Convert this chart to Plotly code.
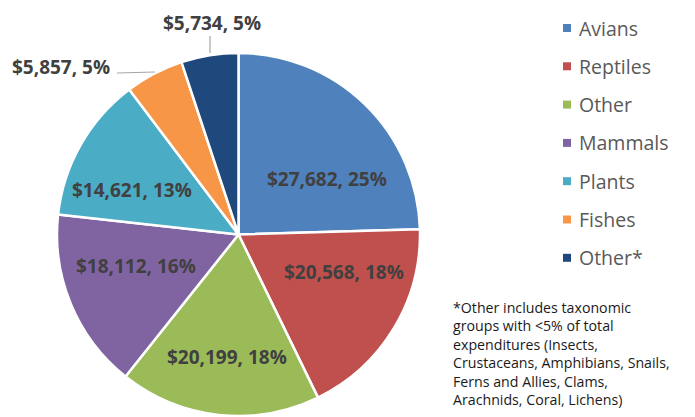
import plotly.graph_objects as go

labels = ["Avians", "Reptiles", "Other", "Mammals", "Plants", "Fishes", "Other*"]
values = [27682, 20568, 20199, 18112, 14621, 5857, 5734]
percents = ["25%", "18%", "18%", "16%", "13%", "5%", "5%"]
colors = ["#4F81BD", "#C0504D", "#9BBB59", "#8064A2", "#4BACC6", "#F79646", "#1F497D"]
note_lines = [
    "*Other includes taxonomic",
    "groups with <5% of total",
    "expenditures (Insects,",
    "Crustaceans, Amphibians, Snails,",
    "Ferns and Allies, Clams,",
    "Arachnids, Coral, Lichens)",
]

W, H = 695, 417
def px(x):
    return x / W
def py(y):
    return 1 - y / H

fig = go.Figure(go.Pie(
    labels=labels, values=values, sort=False, direction="clockwise", rotation=0,
    marker=dict(colors=colors, line=dict(color="white", width=2.5)),
    textinfo="none", showlegend=False,
    domain=dict(x=[px(57), px(420)], y=[py(416), py(53)]),
))

# data label positions (pixel centres)
label_pos = [(327, 179), (344, 272), (227, 357), (136, 266), (132, 190), (61, 67), (212, 23)]
annotations = []
for lab, v, p, (x, y) in zip(labels, values, percents, label_pos):
    annotations.append(dict(
        x=px(x), y=py(y), xref="paper", yref="paper", showarrow=False,
        text="<b>${:,}, {}</b>".format(v, p),
        font=dict(family="Open Sans", size=19, color="#404040"),
        xanchor="center", yanchor="middle",
    ))

shapes = [
    dict(type="line", xref="paper", yref="paper", x0=px(210), y0=py(36), x1=px(210), y1=py(53),
         line=dict(color="#A6A6A6", width=1.2)),
    dict(type="line", xref="paper", yref="paper", x0=px(117), y0=py(73), x1=px(155), y1=py(72),
         line=dict(color="#A6A6A6", width=1.2)),
]

# manual legend
leg_y0, leg_dy = 28, 38.3
for i, (lab, c) in enumerate(zip(labels, colors)):
    yc = leg_y0 + i * leg_dy
    shapes.append(dict(type="rect", xref="paper", yref="paper",
                       x0=px(563), x1=px(571), y0=py(yc - 4), y1=py(yc + 4),
                       fillcolor=c, line=dict(width=0)))
    annotations.append(dict(
        x=px(577), y=py(yc), xref="paper", yref="paper", showarrow=False,
        text=lab, font=dict(family="Open Sans", size=19.5, color="#595959"),
        xanchor="left", yanchor="middle",
    ))

annotations.append(dict(
    x=px(451), y=py(296), xref="paper", yref="paper", showarrow=False,
    text="<br>".join(note_lines).replace("<5%", "&lt;5%"),
    font=dict(family="Open Sans", size=14.2, color="#1a1a1a"),
    xanchor="left", yanchor="top", align="left",
))

fig.update_layout(
    width=W, height=H, margin=dict(l=0, r=0, t=0, b=0),
    paper_bgcolor="white", plot_bgcolor="white",
    annotations=annotations, shapes=shapes, showlegend=False,
)
fig.write_html("out.html")
